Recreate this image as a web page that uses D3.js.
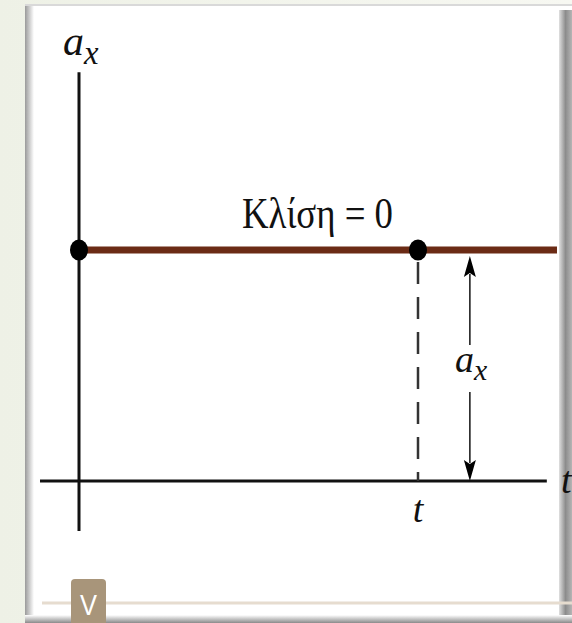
<!DOCTYPE html>
<html><head><meta charset="utf-8">
<script src="https://cdn.jsdelivr.net/npm/d3@7"></script>
<style>
html,body{margin:0;padding:0;background:#f4f6ee;}
svg{display:block;}
</style></head>
<body>
<svg id="c" width="572" height="623"></svg>
<script>
// ---- data ----
const lineT = [0, 1.41];      // constant acceleration line (time)
const lineA = [1, 1];         // a_x values (constant)
const pointT = [0, 1];        // marked points
const pointA = [1, 1];
const tMark = [1];            // the time "t"
const arrowT = [1.153];       // position of a_x magnitude arrow
const slopeText = ["Κλίση = 0"];
const axisLabels = ["t", "a"];

const svg = d3.select("#c");
const W = 572, H = 623;

// background / panel
const defs = svg.append("defs");
const gl = defs.append("linearGradient").attr("id","lsh").attr("x1",0).attr("x2",1);
gl.append("stop").attr("offset",0).attr("stop-color","#9a9a9a");
gl.append("stop").attr("offset",1).attr("stop-color","#ffffff");
const gr = defs.append("linearGradient").attr("id","rsh").attr("x1",0).attr("x2",1);
gr.append("stop").attr("offset",0).attr("stop-color","#e0e0e0");
gr.append("stop").attr("offset",0.5).attr("stop-color","#8c8c8c");
gr.append("stop").attr("offset",1).attr("stop-color","#b5b5b5");
const gb = defs.append("linearGradient").attr("id","bsh").attr("x1",0).attr("x2",0).attr("y1",0).attr("y2",1);
gb.append("stop").attr("offset",0).attr("stop-color","#ffffff");
gb.append("stop").attr("offset",1).attr("stop-color","#8a8a8a");
const gbg = defs.append("linearGradient").attr("id","bg").attr("x1",0).attr("x2",1);
gbg.append("stop").attr("offset",0).attr("stop-color","#eef1e6");
gbg.append("stop").attr("offset",1).attr("stop-color","#f7f8f2");

svg.append("rect").attr("width",W).attr("height",H).attr("fill","url(#bg)");
svg.append("rect").attr("x",25).attr("y",4).attr("width",W-25).attr("height",H-4).attr("fill","#ffffff");
svg.append("rect").attr("x",25).attr("y",4).attr("width",9).attr("height",H-4).attr("fill","url(#lsh)");
svg.append("rect").attr("x",25).attr("y",4).attr("width",W-25).attr("height",2).attr("fill","#d9d9d9");
svg.append("rect").attr("x",559).attr("y",10).attr("width",13).attr("height",H-10).attr("fill","url(#rsh)");
svg.append("rect").attr("x",25).attr("y",615).attr("width",W-25).attr("height",8).attr("fill","url(#bsh)");

// scales
const x = d3.scaleLinear().domain([0, 1]).range([79, 418]);
const y = d3.scaleLinear().domain([0, 1]).range([481, 250]);

// axes
const ax = d3.axisBottom(x).tickValues([]).tickSizeOuter(0);
const gx = svg.append("g").attr("transform",`translate(0,${y(0)})`).call(ax);
gx.select(".domain").attr("d", `M${x(-0.115)},0H${x(1.38)}`).attr("stroke","#111").attr("stroke-width",3);
const ay = d3.axisLeft(y).tickValues([]).tickSizeOuter(0);
const gy = svg.append("g").attr("transform",`translate(${x(0)},0)`).call(ay);
gy.select(".domain").attr("d", `M0,${y(1.77)}V${y(-0.216)}`).attr("stroke","#111").attr("stroke-width",3);

// dashed vertical at t
svg.append("line").attr("x1",x(tMark[0])).attr("x2",x(tMark[0]))
  .attr("y1",y(pointA[1])+12).attr("y2",y(0))
  .attr("stroke","#333").attr("stroke-width",2.5).attr("stroke-dasharray","22,13");

// constant line
svg.append("path").datum(lineT.map((t,i)=>[t,lineA[i]]))
  .attr("d", d3.line().x(d=>x(d[0])).y(d=>y(d[1])))
  .attr("stroke","#6b2b15").attr("stroke-width",7).attr("fill","none");

// points
svg.selectAll("ellipse.pt").data(pointT.map((t,i)=>[t,pointA[i]])).join("ellipse")
  .attr("cx",d=>x(d[0])).attr("cy",d=>y(d[1])).attr("rx",9).attr("ry",10.5).attr("fill","#000");

// magnitude arrow
const axp = x(arrowT[0]);
const yTop = y(1)+6, yBot = y(0);
svg.append("line").attr("x1",axp).attr("x2",axp).attr("y1",yTop+18).attr("y2",345).attr("stroke","#222").attr("stroke-width",1.6);
svg.append("line").attr("x1",axp).attr("x2",axp).attr("y1",392).attr("y2",yBot-18).attr("stroke","#222").attr("stroke-width",1.6);
svg.append("path").attr("d",`M${axp},${yTop}L${axp-6},${yTop+21}L${axp},${yTop+17}L${axp+6},${yTop+21}Z`).attr("fill","#000");
svg.append("path").attr("d",`M${axp},${yBot}L${axp-6},${yBot-21}L${axp},${yBot-17}L${axp+6},${yBot-21}Z`).attr("fill","#000");

// labels
const ital = "'Liberation Serif','DejaVu Serif',serif";
function axLabel(cx, base, size){
  const t = svg.append("text").attr("x",cx).attr("y",base).attr("font-family",ital).attr("font-style","italic")
    .attr("font-size",size).attr("fill","#111");
  t.append("tspan").text(axisLabels[1]);
  t.append("tspan").attr("font-size",size*0.78).attr("dy",size*0.22).text("x");
}
axLabel(63, 55, 42);
axLabel(455, 372, 38);

svg.append("text").attr("x",x(tMark[0])).attr("y",522).attr("text-anchor","middle")
  .attr("font-family",ital).attr("font-style","italic").attr("font-size",38).attr("fill","#111").text(axisLabels[0]);
svg.append("text").attr("x",561).attr("y",493)
  .attr("font-family",ital).attr("font-style","italic").attr("font-size",38).attr("fill","#111").text(axisLabels[0]);

svg.append("text").attr("x",242).attr("y",228)
  .attr("font-family","'Liberation Serif','DejaVu Serif',serif").attr("font-size",45)
  .attr("textLength",151).attr("lengthAdjust","spacingAndGlyphs").attr("fill","#111").text(slopeText[0]);

// bottom decoration
svg.append("line").attr("x1",42).attr("x2",W).attr("y1",603).attr("y2",603).attr("stroke","#e6dccf").attr("stroke-width",3);
svg.append("rect").attr("x",71).attr("y",579).attr("width",35).attr("height",50).attr("rx",4).attr("fill","#a8957a");
svg.append("text").attr("x",80).attr("y",615).attr("font-family","'Liberation Sans','DejaVu Sans',sans-serif")
  .attr("font-size",30).attr("textLength",17).attr("lengthAdjust","spacingAndGlyphs").attr("fill","#ffffff").text("V");
</script>
</body></html>
